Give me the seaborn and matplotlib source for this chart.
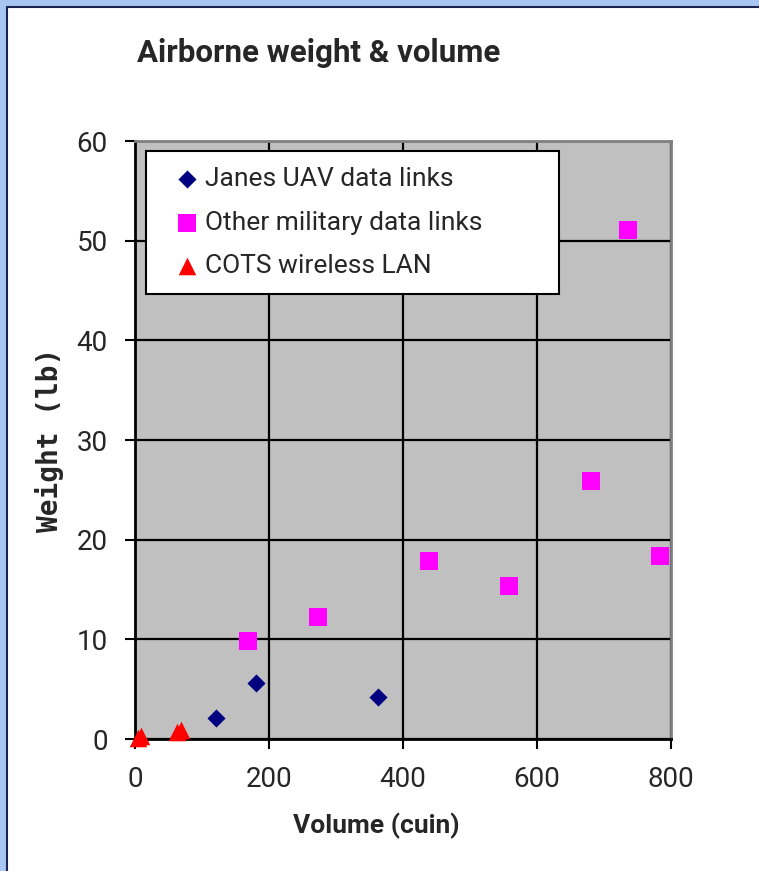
import numpy as np
import pandas as pd
import matplotlib
matplotlib.use("Agg")
import matplotlib.pyplot as plt
import seaborn as sns
from matplotlib.patches import Rectangle
from matplotlib.lines import Line2D

# data
janes_vol = [121, 181, 363]
janes_wt = [2.1, 5.6, 4.2]
mil_vol = [169, 273, 439, 558, 681, 736, 783]
mil_wt = [9.8, 12.2, 17.9, 15.4, 25.9, 51.1, 18.4]
cots_vol = [4, 9, 62, 68]
cots_wt = [0.15, 0.3, 0.75, 0.9]

x_ticks = [0, 200, 400, 600, 800]
y_ticks = [0, 10, 20, 30, 40, 50, 60]

df = pd.concat([
    pd.DataFrame({"vol": janes_vol, "wt": janes_wt, "grp": "Janes UAV data links"}),
    pd.DataFrame({"vol": mil_vol, "wt": mil_wt, "grp": "Other military data links"}),
    pd.DataFrame({"vol": cots_vol, "wt": cots_wt, "grp": "COTS wireless LAN"}),
])

sns.set_style("white")
plt.rcParams["font.family"] = ["Roboto", "DejaVu Sans"]

fig = plt.figure(figsize=(7.59, 8.71), dpi=100)
fig.patch.set_facecolor("white")

# light blue frame on the top and left, with a dark edge line
bx, by = 7 / 759, 1 - 7 / 871
fig.add_artist(Rectangle((0, by), 1, 1 - by, transform=fig.transFigure,
                         facecolor="#a9c6f2", edgecolor="none"))
fig.add_artist(Rectangle((0, 0), bx, 1, transform=fig.transFigure,
                         facecolor="#a9c6f2", edgecolor="none"))
fig.add_artist(Rectangle((0.97, 0), 0.03, by - 0.003, transform=fig.transFigure,
                         facecolor="white", edgecolor="none"))
fig.add_artist(Line2D([bx, 1], [by, by], transform=fig.transFigure, color="#1a2450", lw=1.5))
fig.add_artist(Line2D([bx, bx], [0, by], transform=fig.transFigure, color="#1a2450", lw=1.5))

ax = fig.add_axes([135 / 759, 1 - 739 / 871, (671 - 135) / 759, (739 - 141) / 871])
ax.set_facecolor("#c0c0c0")

styles = {
    "Janes UAV data links": ("D", "#000080", 85),
    "Other military data links": ("s", "#ff00ff", 175),
    "COTS wireless LAN": ("^", "#ff0000", 160),
}
for grp, (m, c, s) in styles.items():
    sub = df[df["grp"] == grp]
    sns.scatterplot(data=sub, x="vol", y="wt", marker=m, color=c, s=s, linewidth=0,
                    label=grp, ax=ax, zorder=3, clip_on=False)

ax.set_xlim(0, 800)
ax.set_ylim(0, 60)
ax.set_xticks(x_ticks)
ax.set_yticks(y_ticks)
ax.grid(True, color="black", linewidth=1.6)
ax.set_axisbelow(True)
for side in ["left", "bottom"]:
    ax.spines[side].set_color("black")
    ax.spines[side].set_linewidth(2)
for side in ["top", "right"]:
    ax.spines[side].set_color("#808080")
    ax.spines[side].set_linewidth(2)
ax.tick_params(axis="both", direction="out", length=7.5, width=1.5, color="black",
               labelsize=20, pad=12, bottom=True, left=True)
ax.set_xlabel("")
ax.set_ylabel("")

# legend box fixed to the reference size
lx0 = (146 - 135) / 536
lx1 = (559 - 135) / 536
ly0 = (739 - 294) / 598
ly1 = (739 - 151) / 598
leg = ax.legend(loc="upper left", bbox_to_anchor=(lx0, ly0, lx1 - lx0, ly1 - ly0),
                mode="expand", frameon=True, fancybox=False, fontsize=19,
                handletextpad=-0.25, borderpad=0.6, labelspacing=0.75,
                handlelength=1.9, borderaxespad=0)
leg.get_frame().set_edgecolor("black")
leg.get_frame().set_linewidth(1.5)
leg.get_frame().set_alpha(1)

fig.text(137 / 759, 1 - 53 / 871, "Airborne weight & volume", ha="left", va="center",
         fontsize=22.5, fontweight="bold")
fig.text(376 / 759, 1 - 826 / 871, "Volume (cuin)", ha="center", va="center",
         fontsize=19, fontweight="bold")
fig.text(49 / 759, 1 - 440 / 871, "Weight (lb)", ha="center", va="center", rotation=90,
         fontsize=20, fontweight="bold", family="DejaVu Sans Mono")

fig.savefig("out.png", dpi=100, facecolor=fig.get_facecolor())
